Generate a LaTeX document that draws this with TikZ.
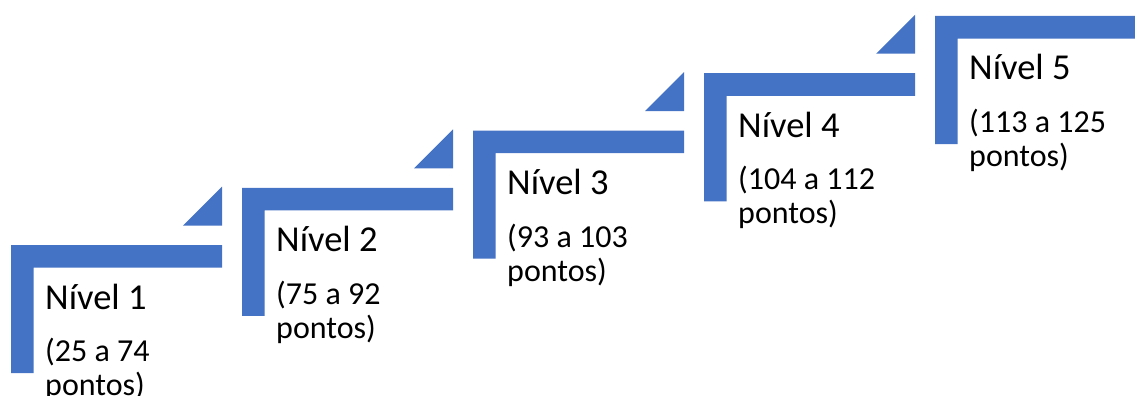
\documentclass[tikz,border=0pt]{standalone}
\usepackage{fontspec}
\setmainfont{Carlito}
\definecolor{stepblue}{HTML}{4472C4}
\tikzset{
  stepshape/.style={fill=stepblue,draw=none},
  title/.style={anchor=base west,inner sep=0pt,font=\fontsize{36.5}{40}\selectfont},
  sub/.style={anchor=base west,inner sep=0pt,font=\fontsize{32}{36}\selectfont}
}
\begin{document}
\begin{tikzpicture}[x=1pt,y=-1pt]
\useasboundingbox (0,0) rectangle (1135,396);
\foreach \i/\lo/\hi in {1/25/74,2/75/92,3/93/103,4/104/112,5/113/125}{
  \pgfmathsetmacro{\xo}{11+231*(\i-1)}
  \pgfmathsetmacro{\yt}{245-57.25*(\i-1)}
  \pgfmathsetmacro{\xr}{\i==5 ? 1140 : \xo+211}
  \fill[stepshape] (\xo,\yt) -- (\xr,\yt) -- (\xr,\yt+22.7) -- (\xo+22.5,\yt+22.7)
     -- (\xo+22.5,\yt+128) -- (\xo,\yt+128) -- cycle;
  \ifnum\i<5
    \fill[stepshape] (\xo+172,\yt-19.5) -- (\xo+211,\yt-58.5) -- (\xo+211,\yt-19.5) -- cycle;
  \fi
  \node[title] (t\i) at (\xo+34,\yt+64) {Nível \i};
  \node[sub] (a\i) at (\xo+34,\yt+116.5) {(\lo\ a \hi};
  \node[sub] (b\i) at (\xo+34,\yt+150.5) {pontos)};
}
\end{tikzpicture}
\end{document}
